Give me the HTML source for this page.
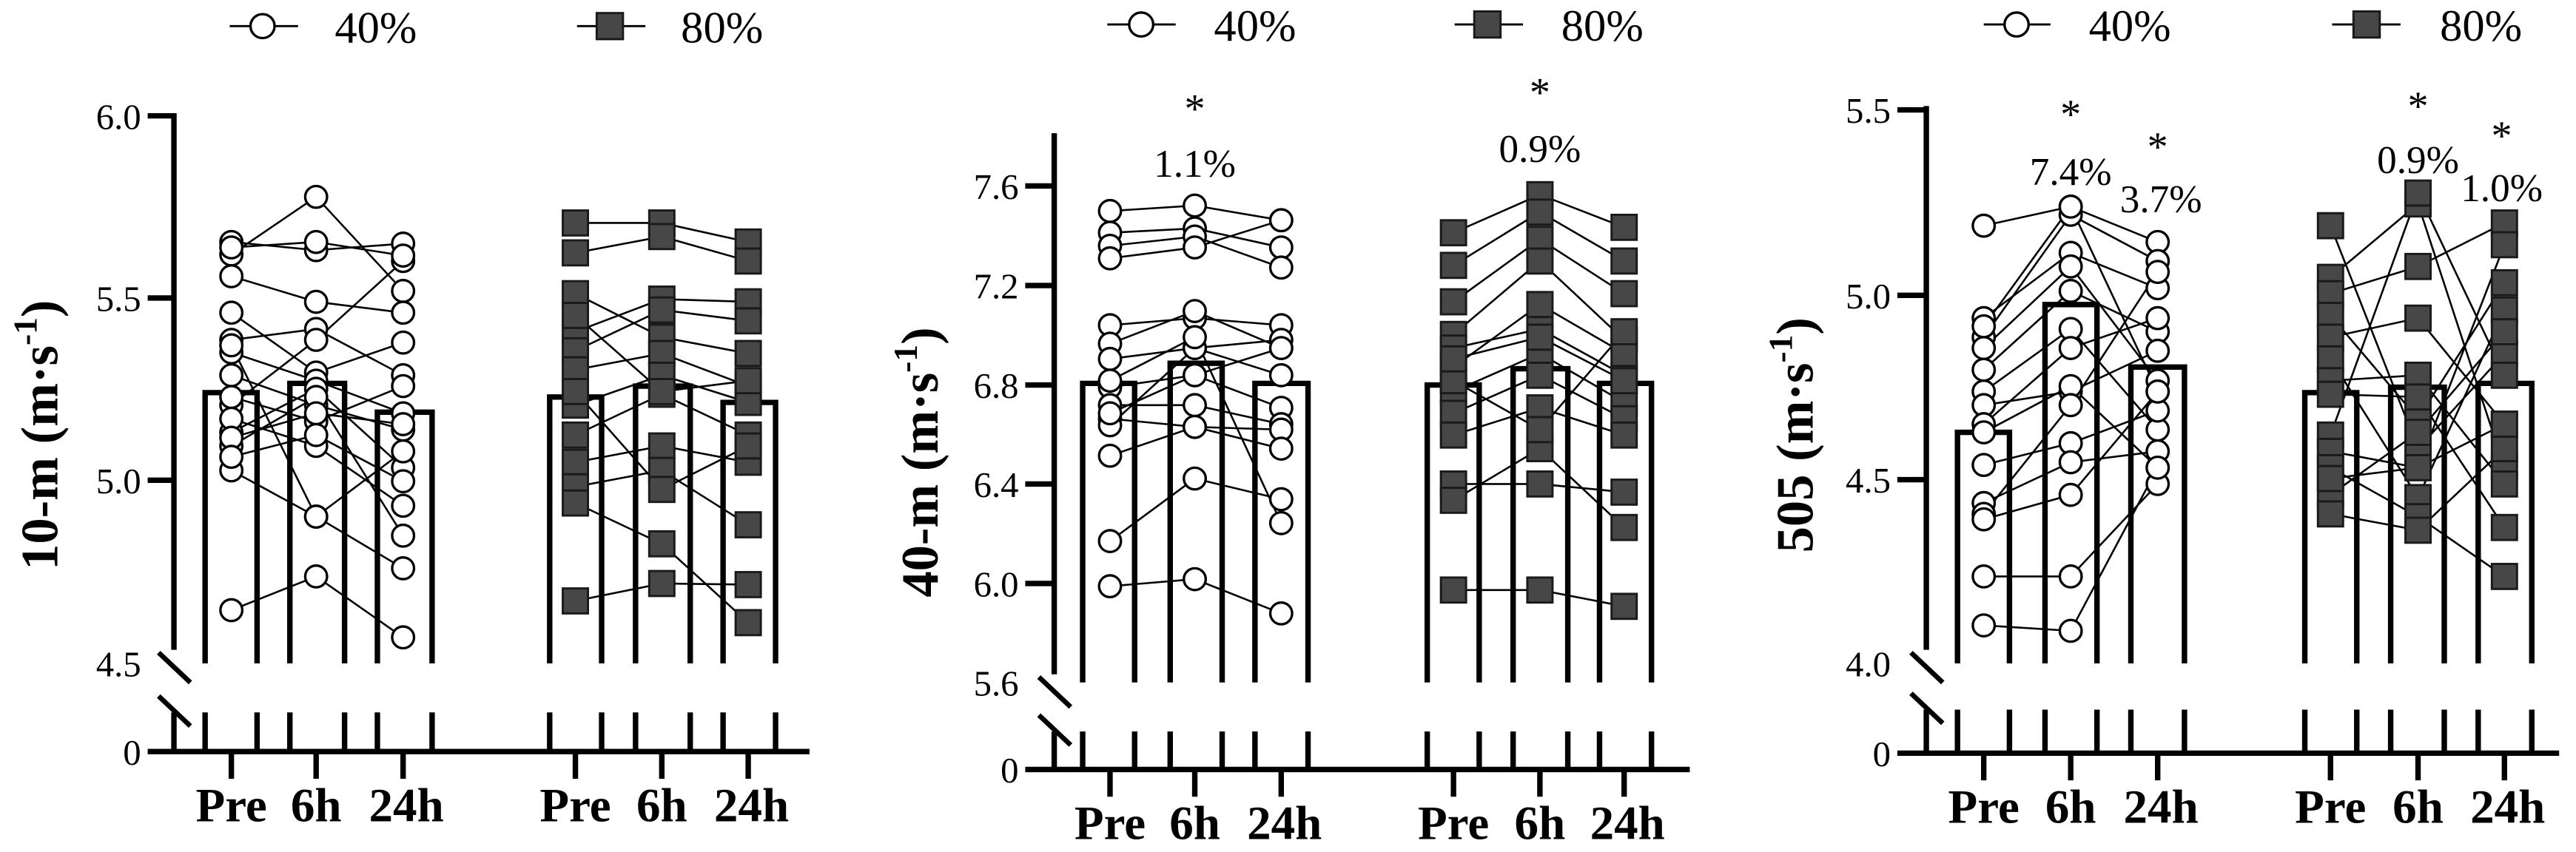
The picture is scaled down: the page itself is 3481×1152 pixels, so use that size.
<!DOCTYPE html>
<html><head><meta charset="utf-8"><style>
html,body{margin:0;padding:0;background:#fff;}
svg{display:block;}
text{font-family:"Liberation Serif",serif;fill:#000;}
</style></head><body>
<svg id="s" xmlns="http://www.w3.org/2000/svg" width="3481" height="1152" viewBox="0 0 3481 1152" font-family="Liberation Serif, serif"></svg>
<script>
const F='font-family="Liberation Serif, serif"';
const P=[
{off:0,ax:318,top:213,brk:1195,low:1310,base:1382,tickL:270,baseR:1480,
 ticks:[[213,"6.0"],[548,"5.5"],[883,"5.0"],[1220,"4.5"],[1382,"0"]],
 bars:[[375,470,722],[530,630,705],[690,790,758],[1005,1100,730],[1162,1262,710],[1322,1418,740]],
 bb:1220,xs:[423,578,737,1052,1210,1368],
 leg:{c:480,l1:420,l2:545,t1:612,s:1115,s1:1055,s2:1180,t2:1245,y:48},
 ylab:{x:70,y:800,t:"10-m"},
 ann:[],
 c:[[445,460,448],[468,362,535],[508,555,575],[575,685,630],[625,605,690],[648,700,760],[690,745,790],[745,625,480],[795,715,860],[820,730,985],[865,950,1045],[1122,1060,1172],[730,775,710],[770,820,930],[805,760,780],[455,445,470],[840,800,885],[635,950,830]],
 q:[[410,410,445],[465,435,480],[540,620,650],[610,550,555],[645,570,590],[680,650,710],[745,690,740],[800,725,800],[850,820,850],[895,865,965],[925,1000,1145],[1105,1073,1075],[720,900,820],[580,720,700]]},
{off:1160,ax:358,top:250,brk:1240,low:1345,base:1415,tickL:305,baseR:1520,
 ticks:[[342,"7.6"],[525,"7.2"],[708,"6.8"],[890,"6.4"],[1073,"6.0"],[1255,"5.6"],[1415,"0"]],
 bars:[[410,505,705],[570,665,668],[725,822,705],[1040,1135,708],[1197,1297,678],[1355,1450,705]],
 bb:1255,xs:[460,615,773,1088,1246,1400],
 leg:{c:517,l1:455,l2:580,t1:650,s:1150,s1:1090,s2:1215,t2:1285,y:45},
 ylab:{x:110,y:850,t:"40-m"},
 ann:[[615,225,"*"],[615,325,"1.1%"],[1246,195,"*"],[1246,298,"0.9%"]],
 c:[[388,378,405],[428,420,455],[452,435,492],[475,455,405],[598,585,598],[632,572,640],[660,640,625],[712,690,750],[745,745,780],[770,785,790],[782,640,690],[838,785,825],[995,880,918],[1078,1065,1128],[700,620,962],[760,690,640]],
 q:[[428,358,418],[488,390,480],[555,440,540],[615,480,625],[640,605,690],[675,560,650],[720,650,740],[760,690,770],[800,750,800],[890,890,905],[920,825,970],[1085,1085,1115],[700,790,610],[660,620,700]]},
{off:2320,ax:383,top:200,brk:1195,low:1305,base:1385,tickL:330,baseR:1540,
 ticks:[[202,"5.5"],[543,"5.0"],[882,"4.5"],[1220,"4.0"],[1385,"0"]],
 bars:[[440,535,795],[600,695,560],[757,855,675],[1075,1170,722],[1232,1330,712],[1392,1490,705]],
 bb:1220,xs:[488,647,806,1122,1282,1440],
 leg:{c:548,l1:488,l2:610,t1:680,s:1188,s1:1125,s2:1250,t2:1322,y:45},
 ylab:{x:140,y:800,t:"505"},
 ann:[[647,235,"*"],[647,340,"7.4%"],[806,295,"*"],[812,390,"3.7%"],[1282,220,"*"],[1282,318,"0.9%"],[1435,275,"*"],[1435,370,"1.0%"]],
 c:[[415,380,445],[585,465,530],[620,395,480],[640,490,700],[680,535,610],[720,605,790],[745,720,645],[780,640,585],[795,710,860],[855,815,755],[925,850,830],[945,745,500],[955,910,720],[1060,1060,890],[1150,1160,860],[600,380,720]],
 q:[[415,825,650],[510,375,860],[540,490,410],[580,770,520],[620,585,780],[660,915,570],[700,690,890],[725,730,970],[800,355,690],[830,860,450],[860,950,1060],[910,795,610],[945,975,825],[880,860,780]]}
];
let h='';
for(const p of P){
 let g=`<g transform="translate(${p.off},0) scale(${1/1.353},${1/1.36})">`;
 for(const b of p.bars){
  g+=`<path d="M${b[0]},${p.bb} V${b[2]} H${b[1]} V${p.bb}" fill="#fff" stroke="#000" stroke-width="10"/>`;
  g+=`<path d="M${b[0]},${p.low} V${p.base} M${b[1]},${p.low} V${p.base}" stroke="#000" stroke-width="10"/>`;
 }
 g+=`<path d="M${p.ax},${p.top-5} V${p.brk} M${p.ax},${p.low} V${p.base}" stroke="#000" stroke-width="10"/>`;
 g+=`<path d="M${p.tickL},${p.base} H${p.baseR}" stroke="#000" stroke-width="10"/>`;
 g+=`<path d="M${p.ax-28},${p.brk+5} L${p.ax+30},${p.brk+60} M${p.ax-28},${p.low-30} L${p.ax+30},${p.low+25}" stroke="#000" stroke-width="9"/>`;
 for(const t of p.ticks){
  if(t[1]!=="0"&&t[0]<p.brk) g+=`<path d="M${p.tickL},${t[0]} H${p.ax}" stroke="#000" stroke-width="10"/>`;
  g+=`<text ${F} x="${p.tickL-12}" y="${t[0]+24}" font-size="66" text-anchor="end">${t[1]}</text>`;
 }
 for(const x of p.xs) g+=`<path d="M${x},${p.base} V${p.base+50}" stroke="#000" stroke-width="10"/>`;
 const lab=["Pre","6h","24h"];
 p.xs.forEach((x,i)=>{g+=`<text ${F} x="${x+(i%3==2?6:0)}" y="${p.base+128}" font-size="88" font-weight="bold" text-anchor="middle">${lab[i%3]}</text>`;});
 const ln=(arr,x0)=>{for(const s of arr)g+=`<polyline points="${p.xs[x0]},${s[0]} ${p.xs[x0+1]},${s[1]} ${p.xs[x0+2]},${s[2]}" fill="none" stroke="#000" stroke-width="3.5"/>`;};
 ln(p.c,0);ln(p.q,3);
 for(const s of p.c)for(let i=0;i<3;i++)g+=`<circle cx="${p.xs[i]}" cy="${s[i]}" r="20" fill="#fff" stroke="#000" stroke-width="4.5"/>`;
 for(const s of p.q)for(let i=0;i<3;i++)g+=`<rect x="${p.xs[i+3]-23}" y="${s[i]-23}" width="46" height="46" fill="#474747" stroke="#1a1a1a" stroke-width="4"/>`;
 const L=p.leg;
 g+=`<path d="M${L.l1},${L.y} H${L.l2} M${L.s1},${L.y} H${L.s2}" stroke="#000" stroke-width="4"/>`;
 g+=`<circle cx="${L.c}" cy="${L.y}" r="22" fill="#fff" stroke="#000" stroke-width="4.5"/>`;
 g+=`<rect x="${L.s-24}" y="${L.y-24}" width="48" height="48" fill="#474747" stroke="#1a1a1a" stroke-width="4"/>`;
 g+=`<text ${F} x="${L.t1}" y="${L.y+30}" font-size="82">40%</text><text ${F} x="${L.t2}" y="${L.y+30}" font-size="82">80%</text>`;
 for(const a of p.ann){
  if(a[2]==="*") g+=`<text ${F} x="${a[0]}" y="${a[1]}" font-size="76" text-anchor="middle">*</text>`;
  else g+=`<text ${F} x="${a[0]}" y="${a[1]}" font-size="72" text-anchor="middle">${a[2]}</text>`;
 }
 g+=`<text ${F} transform="translate(${p.ylab.x+35},${p.ylab.y}) rotate(-90)" font-size="96" font-weight="bold" text-anchor="middle">${p.ylab.t} (m<tspan>·</tspan>s<tspan dy="-38" font-size="62">-1</tspan><tspan dy="38">)</tspan></text>`;
 g+='</g>';
 h+=g;
}
document.getElementById('s').innerHTML=h;
</script>
</body></html>
